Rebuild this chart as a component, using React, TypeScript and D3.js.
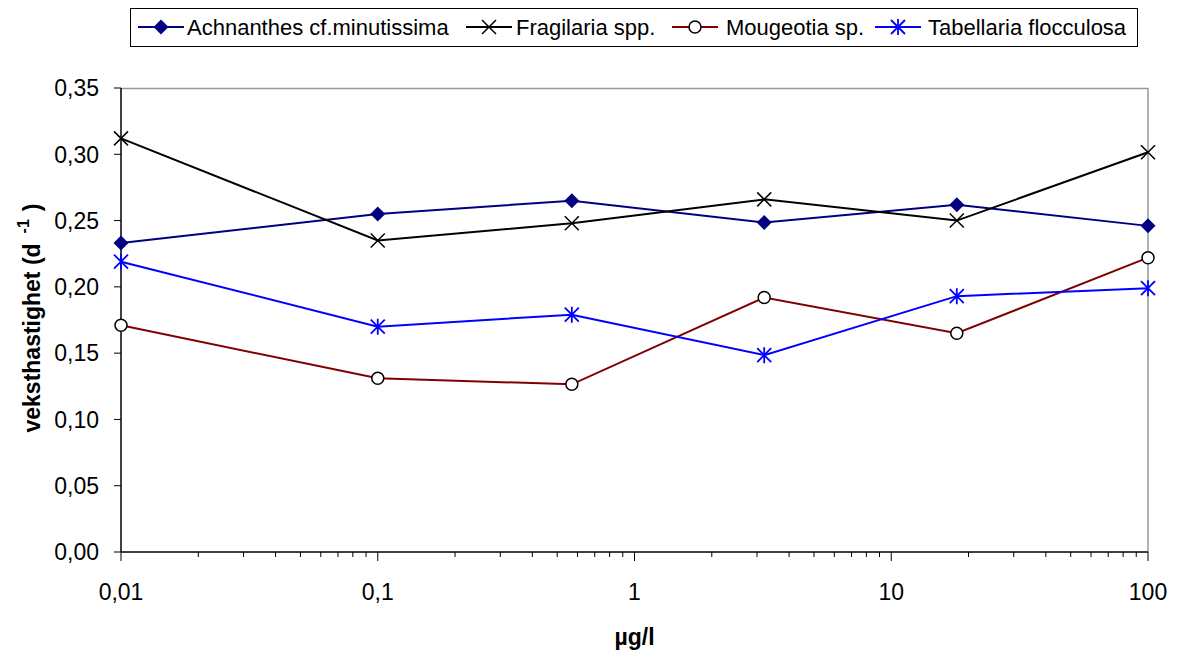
import React, { useEffect, useRef } from 'react'
import * as d3 from 'd3'

// concentration (µg/l)
const conc = [0.01, 0.1, 0.57, 3.2, 18, 100]

const achnanthes = [0.233, 0.255, 0.265, 0.2485, 0.262, 0.246]
const fragilaria = [0.312, 0.235, 0.248, 0.266, 0.25, 0.3015]
const mougeotia = [0.171, 0.131, 0.1265, 0.192, 0.165, 0.222]
const tabellaria = [0.219, 0.17, 0.179, 0.1485, 0.193, 0.199]

const seriesNames = ['Achnanthes cf.minutissima', 'Fragilaria spp.', 'Mougeotia sp.', 'Tabellaria flocculosa']
const xTicks = [0.01, 0.1, 1, 10, 100]
const yTicks = [0, 0.05, 0.1, 0.15, 0.2, 0.25, 0.3, 0.35]

const series = [
  { name: seriesNames[0], values: achnanthes, color: '#000080', marker: 'diamond' },
  { name: seriesNames[1], values: fragilaria, color: '#000000', marker: 'x' },
  { name: seriesNames[2], values: mougeotia, color: '#800000', marker: 'circle' },
  { name: seriesNames[3], values: tabellaria, color: '#0000ff', marker: 'star' },
]

const W = 1179
const H = 653
const margin = { top: 88, right: 31, bottom: 101, left: 121 }
const FONT = 'Liberation Sans, Arial, sans-serif'

const drawMarker = (g: any, type: string, color: string, x: number, y: number) => {
  if (type === 'diamond') {
    g.append('path')
      .attr('d', `M${x},${y - 7.5}L${x + 7.5},${y}L${x},${y + 7.5}L${x - 7.5},${y}Z`)
      .attr('fill', color)
  } else if (type === 'x') {
    g.append('path')
      .attr('d', `M${x - 7},${y - 7}L${x + 7},${y + 7}M${x - 7},${y + 7}L${x + 7},${y - 7}`)
      .attr('stroke', '#000').attr('stroke-width', 1.5)
  } else if (type === 'circle') {
    g.append('circle').attr('cx', x).attr('cy', y).attr('r', 6)
      .attr('fill', '#fff').attr('stroke', '#000').attr('stroke-width', 1.5)
  } else {
    g.append('path')
      .attr('d', `M${x - 7},${y - 7}L${x + 7},${y + 7}M${x - 7},${y + 7}L${x + 7},${y - 7}M${x},${y - 8}L${x},${y + 8}`)
      .attr('stroke', color).attr('stroke-width', 1.8)
  }
}

const App = () => {
  const ref = useRef<SVGSVGElement>(null)

  useEffect(() => {
    const svg = d3.select(ref.current)
    svg.selectAll('*').remove()
    const width = W - margin.left - margin.right
    const height = H - margin.top - margin.bottom

    const x = d3.scaleLog().domain([0.01, 100]).range([0, width])
    const y = d3.scaleLinear().domain([0, 0.35]).range([height, 0])

    const g = svg.append('g').attr('transform', `translate(${margin.left},${margin.top})`)

    // grey frame top/right
    g.append('path')
      .attr('d', `M0,0.5H${width}V${height}`)
      .attr('fill', 'none').attr('stroke', '#999').attr('stroke-width', 1.5)

    const fmt = (v: number) => d3.format('.2f')(v).replace('.', ',')

    // y axis
    g.append('line').attr('x1', 0).attr('x2', 0).attr('y1', 0).attr('y2', height)
      .attr('stroke', '#000').attr('stroke-width', 1.5)
    yTicks.forEach((t) => {
      g.append('line').attr('x1', -7).attr('x2', 0).attr('y1', y(t)).attr('y2', y(t))
        .attr('stroke', '#000').attr('stroke-width', 1)
      g.append('text').attr('x', -22).attr('y', y(t)).attr('dy', '0.36em')
        .attr('text-anchor', 'end').attr('font-size', 23).attr('font-family', FONT)
        .text(fmt(t))
    })

    // x axis
    g.append('line').attr('x1', 0).attr('x2', width).attr('y1', height).attr('y2', height)
      .attr('stroke', '#000').attr('stroke-width', 1.5)
    const minor: number[] = []
    for (let d = 0.01; d < 100; d *= 10) {
      for (let k = 2; k <= 9; k++) minor.push(+(d * k).toPrecision(3))
    }
    minor.forEach((t) => {
      g.append('line').attr('x1', x(t)).attr('x2', x(t)).attr('y1', height).attr('y2', height + 5)
        .attr('stroke', '#000').attr('stroke-width', 1)
    })
    xTicks.forEach((t) => {
      g.append('line').attr('x1', x(t)).attr('x2', x(t)).attr('y1', height).attr('y2', height + 9)
        .attr('stroke', '#000').attr('stroke-width', 1)
      g.append('text').attr('x', x(t)).attr('y', height + 48)
        .attr('text-anchor', 'middle').attr('font-size', 23).attr('font-family', FONT)
        .text(String(t).replace('.', ','))
    })

    // lines + markers
    series.forEach((s) => {
      const line = d3.line<number>().x((_, i) => x(conc[i])).y((d) => y(d))
      g.append('path').datum(s.values).attr('d', line)
        .attr('fill', 'none').attr('stroke', s.color).attr('stroke-width', 2)
      s.values.forEach((v, i) => drawMarker(g, s.marker, s.color, x(conc[i]), y(v)))
    })

    // axis titles
    const yt = svg.append('text')
      .attr('transform', `translate(40,318) rotate(-90)`)
      .attr('text-anchor', 'middle').attr('font-size', 23).attr('font-weight', 'bold')
      .attr('font-family', FONT)
    yt.append('tspan').text('veksthastighet (d')
    yt.append('tspan').attr('font-size', 16).attr('dx', 10).attr('dy', -11).text('-1')
    yt.append('tspan').attr('dx', 8).attr('dy', 11).text(')')

    svg.append('text').attr('x', margin.left + width / 2).attr('y', 645)
      .attr('text-anchor', 'middle').attr('font-size', 23).attr('font-weight', 'bold')
      .attr('font-family', FONT)
      .text('µg/l')

    // legend
    const lg = svg.append('g')
    lg.append('rect').attr('x', 130.5).attr('y', 8.5).attr('width', 1007).attr('height', 38)
      .attr('fill', '#fff').attr('stroke', '#000').attr('stroke-width', 1)
    const legendLine = [138, 466, 672, 875]
    const legendText = [187, 516, 726, 928]
    series.forEach((s, i) => {
      const lx = legendLine[i]
      lg.append('line').attr('x1', lx).attr('x2', lx + 46).attr('y1', 27).attr('y2', 27)
        .attr('stroke', s.color).attr('stroke-width', 2)
      drawMarker(lg, s.marker, s.color, lx + 23, 27)
      lg.append('text').attr('x', legendText[i]).attr('y', 27).attr('dy', '0.36em')
        .attr('font-size', 22).attr('font-family', FONT)
        .text(s.name)
    })
  }, [])

  return <svg ref={ref} width={W} height={H} style={{ display: 'block', position: 'absolute', left: 0, top: 0 }} />
}

export default App
